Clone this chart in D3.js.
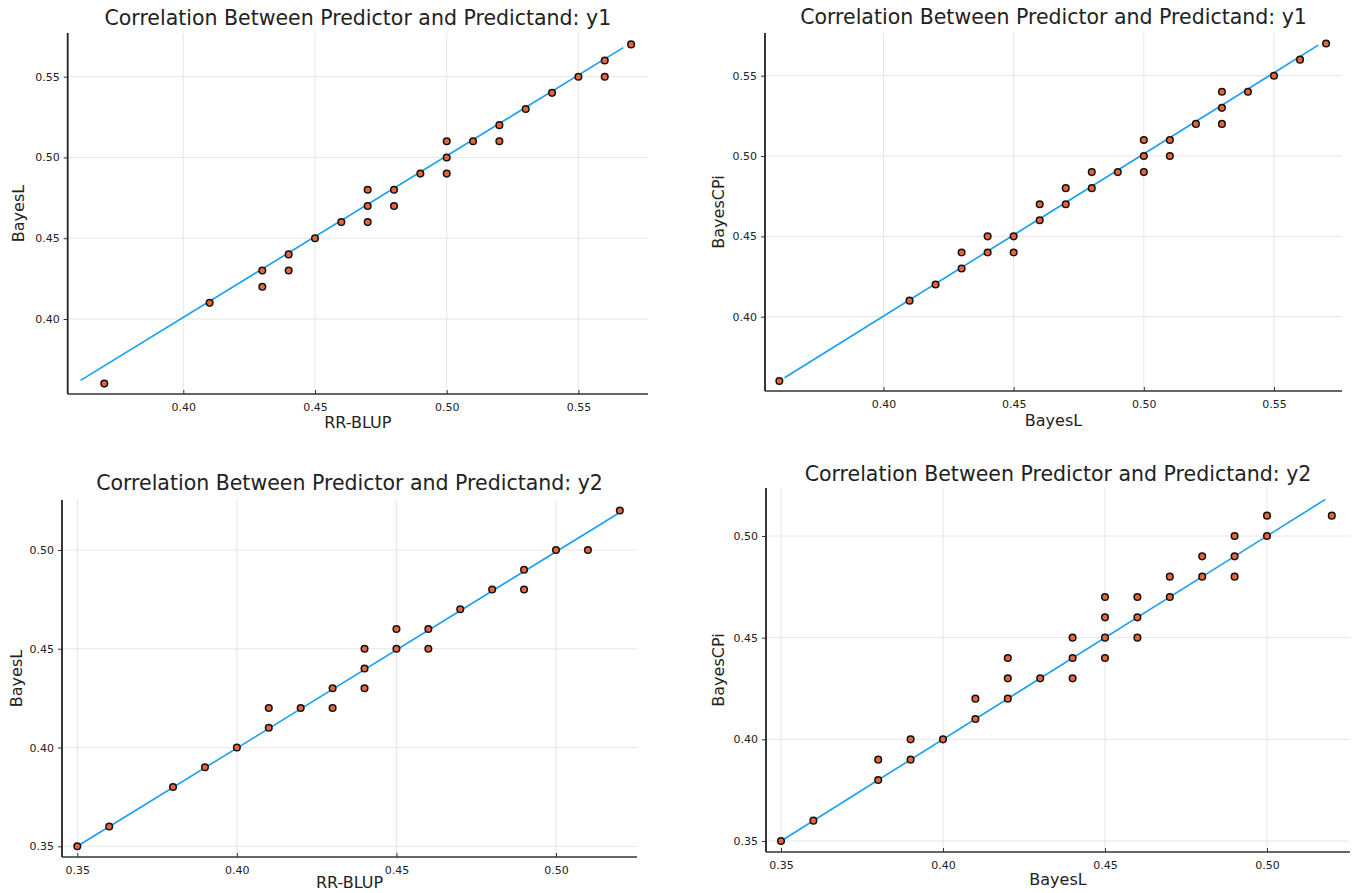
<!DOCTYPE html>
<html>
<head>
<meta charset="utf-8">
<script src="https://cdn.jsdelivr.net/npm/d3@7/dist/d3.min.js"></script>
<style>
  html, body { margin: 0; padding: 0; background: #fff; }
  svg { display: block; }
  text { font-family: "DejaVu Sans", sans-serif; fill: #222; }
</style>
</head>
<body>
<svg id="chart" width="1353" height="893"></svg>
<script>
// ---------- DATA ----------
const titles = [
  "Correlation Between Predictor and Predictand: y1",
  "Correlation Between Predictor and Predictand: y1",
  "Correlation Between Predictor and Predictand: y2",
  "Correlation Between Predictor and Predictand: y2"
];
const xLabels = ["RR-BLUP", "BayesL", "RR-BLUP", "BayesL"];
const yLabels = ["BayesL", "BayesCPi", "BayesL", "BayesCPi"];

const ticksY1 = [0.40, 0.45, 0.50, 0.55];
const ticksY2 = [0.35, 0.40, 0.45, 0.50];

// Panel 1: RR-BLUP vs BayesL (y1)
const p1x = [0.37,0.41,0.43,0.43,0.44,0.44,0.45,0.46,0.47,0.47,0.47,0.48,0.48,0.49,0.50,0.50,0.50,0.51,0.52,0.52,0.53,0.54,0.55,0.56,0.56,0.57];
const p1y = [0.36,0.41,0.43,0.42,0.44,0.43,0.45,0.46,0.48,0.47,0.46,0.48,0.47,0.49,0.51,0.50,0.49,0.51,0.52,0.51,0.53,0.54,0.55,0.56,0.55,0.57];
const fit1x = [0.361, 0.567];
const fit1y = [0.362, 0.568];

// Panel 2: BayesL vs BayesCPi (y1)
const p2x = [0.36,0.41,0.42,0.43,0.43,0.44,0.44,0.45,0.45,0.46,0.46,0.47,0.47,0.48,0.48,0.49,0.50,0.50,0.50,0.51,0.51,0.52,0.53,0.53,0.53,0.54,0.55,0.56,0.57];
const p2y = [0.36,0.41,0.42,0.44,0.43,0.45,0.44,0.45,0.44,0.47,0.46,0.48,0.47,0.49,0.48,0.49,0.51,0.50,0.49,0.51,0.50,0.52,0.54,0.53,0.52,0.54,0.55,0.56,0.57];
const fit2x = [0.362, 0.567];
const fit2y = [0.362, 0.569];

// Panel 3: RR-BLUP vs BayesL (y2)
const p3x = [0.35,0.36,0.38,0.39,0.40,0.41,0.41,0.42,0.43,0.43,0.44,0.44,0.44,0.45,0.45,0.46,0.46,0.47,0.48,0.49,0.49,0.50,0.51,0.52];
const p3y = [0.35,0.36,0.38,0.39,0.40,0.42,0.41,0.42,0.43,0.42,0.45,0.44,0.43,0.46,0.45,0.46,0.45,0.47,0.48,0.49,0.48,0.50,0.50,0.52];
const fit3x = [0.350, 0.520];
const fit3y = [0.350, 0.519];

// Panel 4: BayesL vs BayesCPi (y2)
const p4x = [0.35,0.36,0.38,0.38,0.39,0.39,0.40,0.41,0.41,0.42,0.42,0.42,0.43,0.44,0.44,0.44,0.45,0.45,0.45,0.45,0.46,0.46,0.46,0.47,0.47,0.48,0.48,0.49,0.49,0.49,0.50,0.50,0.52];
const p4y = [0.35,0.36,0.39,0.38,0.40,0.39,0.40,0.42,0.41,0.44,0.43,0.42,0.43,0.45,0.44,0.43,0.47,0.46,0.45,0.44,0.47,0.46,0.45,0.48,0.47,0.49,0.48,0.50,0.49,0.48,0.51,0.50,0.51];
const fit4x = [0.351, 0.518];
const fit4y = [0.351, 0.518];

// ---------- LAYOUT ----------
const layout = [
  { box:{l:67.7,r:648,t:33,b:394},  xA:[0.40,183.3,0.55,578.4], yA:[0.40,319,0.55,76.7],  titleY:24.5, xLabY:428, yLabX:18 },
  { box:{l:765,r:1342,t:33,b:391},  xA:[0.40,883.5,0.55,1274],  yA:[0.40,316.7,0.55,75.7], titleY:24,   xLabY:426, yLabX:718 },
  { box:{l:62,r:637,t:500,b:857},   xA:[0.35,77.3,0.50,556],    yA:[0.35,846.3,0.50,550],  titleY:490,  xLabY:887.5, yLabX:16 },
  { box:{l:766,r:1350,t:488,b:852}, xA:[0.35,781,0.50,1267],    yA:[0.35,841,0.50,536],    titleY:481,  xLabY:885, yLabX:718 }
];

const data = [
  { xs:p1x, ys:p1y, fx:fit1x, fy:fit1y, ticks:ticksY1 },
  { xs:p2x, ys:p2y, fx:fit2x, fy:fit2y, ticks:ticksY1 },
  { xs:p3x, ys:p3y, fx:fit3x, fy:fit3y, ticks:ticksY2 },
  { xs:p4x, ys:p4y, fx:fit4x, fy:fit4y, ticks:ticksY2 }
];

const svg = d3.select("#chart");
const lineColor = "#179ef5";
const dotColor = "#e8643a";

data.forEach((d, i) => {
  const L = layout[i], B = L.box;
  const x = d3.scaleLinear().domain([L.xA[0], L.xA[2]]).range([L.xA[1], L.xA[3]]);
  const y = d3.scaleLinear().domain([L.yA[0], L.yA[2]]).range([L.yA[1], L.yA[3]]);
  const g = svg.append("g");

  // grid
  g.selectAll(".gx").data(d.ticks).join("line")
    .attr("x1", v => x(v)).attr("x2", v => x(v))
    .attr("y1", B.t).attr("y2", B.b)
    .attr("stroke", "#e6e6e6").attr("stroke-width", 1);
  g.selectAll(".gy").data(d.ticks).join("line")
    .attr("x1", B.l).attr("x2", B.r)
    .attr("y1", v => y(v)).attr("y2", v => y(v))
    .attr("stroke", "#e6e6e6").attr("stroke-width", 1);

  // x axis
  const xAxis = d3.axisBottom(x).tickValues(d.ticks).tickFormat(d3.format(".2f")).tickSizeInner(-4).tickSizeOuter(0).tickPadding(9);
  const gx = g.append("g").attr("transform", `translate(0,${B.b})`).call(xAxis);
  gx.select(".domain").remove();
  gx.selectAll(".tick line").attr("stroke", "#333").attr("stroke-width", 1);
  gx.selectAll(".tick text").style("font-family", '"DejaVu Sans", sans-serif').style("font-size", "11px").attr("fill", "#333");

  // y axis
  const yAxis = d3.axisLeft(y).tickValues(d.ticks).tickFormat(d3.format(".2f")).tickSizeInner(4).tickSizeOuter(0).tickPadding(4);
  const gy = g.append("g").attr("transform", `translate(${B.l},0)`).call(yAxis);
  gy.select(".domain").remove();
  gy.selectAll(".tick line").attr("stroke", "#333").attr("stroke-width", 1);
  gy.selectAll(".tick text").style("font-family", '"DejaVu Sans", sans-serif').style("font-size", "11px").attr("fill", "#333");

  // spines
  g.append("line").attr("x1", B.l).attr("x2", B.r).attr("y1", B.b).attr("y2", B.b)
    .attr("stroke", "#333").attr("stroke-width", 1.6);
  g.append("line").attr("x1", B.l).attr("x2", B.l).attr("y1", B.t).attr("y2", B.b)
    .attr("stroke", "#222").attr("stroke-width", 1.8);

  // fit line
  const fitPts = d.fx.map((v, k) => [v, d.fy[k]]);
  g.append("path").datum(fitPts)
    .attr("d", d3.line().x(p => x(p[0])).y(p => y(p[1])))
    .attr("fill", "none").attr("stroke", lineColor).attr("stroke-width", 1.6);

  // points
  const pts = d.xs.map((v, k) => [v, d.ys[k]]);
  g.selectAll(".pt").data(pts).join("circle")
    .attr("cx", p => x(p[0])).attr("cy", p => y(p[1]))
    .attr("r", 3.3)
    .attr("fill", dotColor).attr("stroke", "#111").attr("stroke-width", 1.5);

  // titles & labels
  g.append("text").attr("x", (B.l + B.r) / 2).attr("y", L.titleY)
    .attr("text-anchor", "middle").style("font-size", "20.5px").text(titles[i]);
  g.append("text").attr("x", (B.l + B.r) / 2).attr("y", L.xLabY)
    .attr("text-anchor", "middle").style("font-size", "16px").text(xLabels[i]);
  g.append("text").attr("transform", `translate(${L.yLabX},${(B.t + B.b) / 2}) rotate(-90)`)
    .attr("text-anchor", "middle").attr("dominant-baseline", "central")
    .style("font-size", "16px").text(yLabels[i]);
});
</script>
</body>
</html>
